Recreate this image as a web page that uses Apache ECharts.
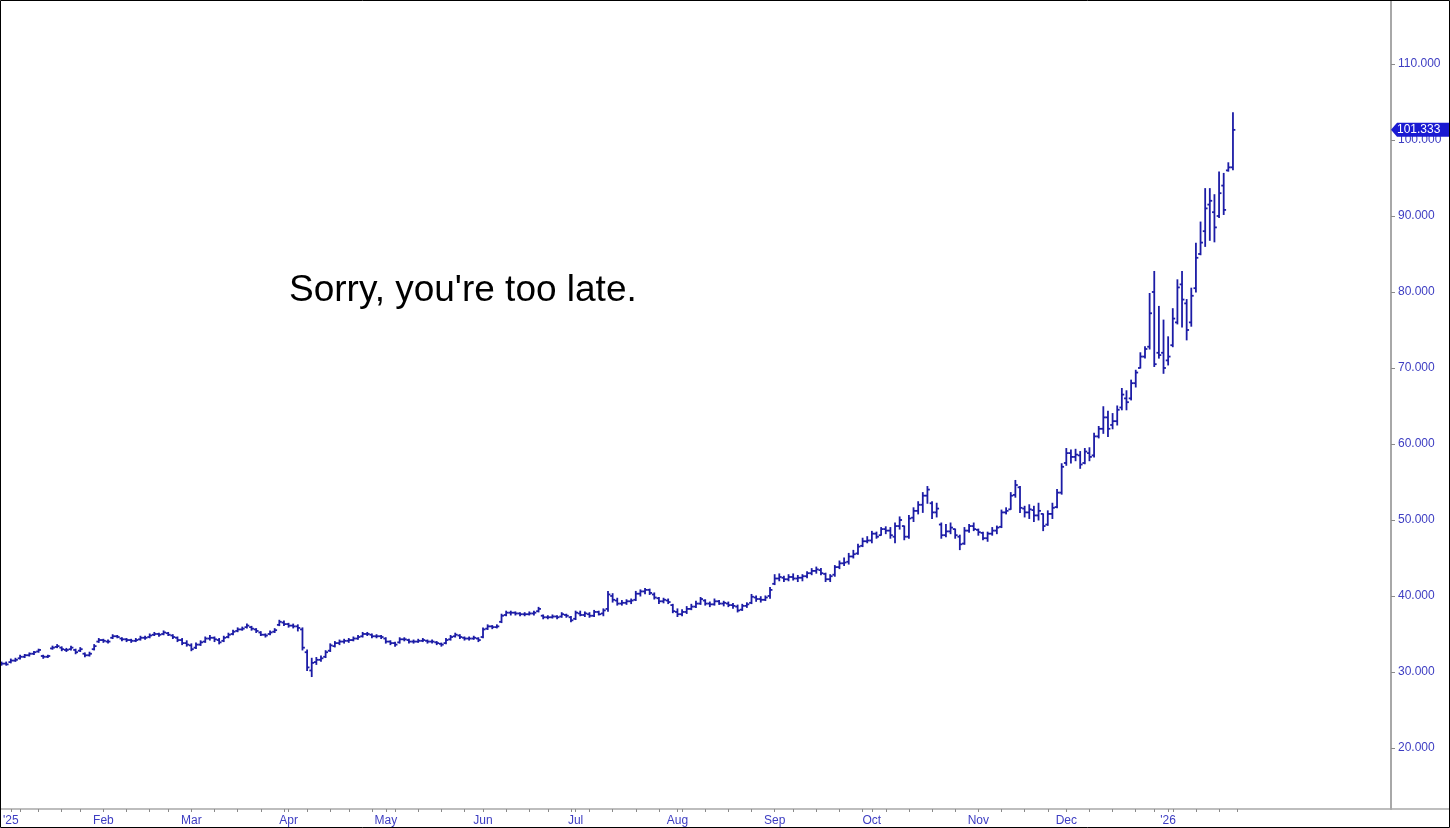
<!DOCTYPE html>
<html>
<head>
<meta charset="utf-8">
<script src="https://cdn.jsdelivr.net/npm/echarts@6/dist/echarts.min.js"></script>
<style>
html,body{margin:0;padding:0;background:#ffffff;}
#c{width:1450px;height:828px;}
</style>
</head>
<body>
<div id="c"></div>
<script>
// ---------------- DATA ----------------
// Daily OHLC bars, first bar = 2024-12-30, trading days only
const firstDate = [2024, 11, 30];
const holidays = ['2025-01-01','2025-01-09','2025-01-20','2025-02-17','2025-04-18','2025-05-26',
  '2025-06-19','2025-07-04','2025-09-01','2025-11-27','2025-12-25','2026-01-01','2026-01-19'];

const opens = [
31.0,31.1,31.3,31.5,31.8,32.0,32.2,32.4,32.7,32.1,
32.0,33.1,33.3,33.2,32.9,33.0,32.9,32.8,32.4,32.2,
33.0,34.0,34.2,34.0,34.5,34.7,34.4,34.3,34.2,34.1,
34.3,34.5,34.6,34.9,35.0,35.0,35.1,34.8,34.5,34.2,
33.8,33.5,33.2,33.6,34.0,34.4,34.5,34.2,34.1,34.6,
35.0,35.4,35.6,35.9,35.9,35.6,35.2,34.9,35.0,35.3,
36.2,36.5,36.3,36.1,36.0,35.6,32.6,30.2,31.3,31.6,
32.0,32.8,33.4,33.8,34.0,34.1,34.2,34.4,34.7,35.0,
34.9,34.7,34.7,34.4,34.0,33.8,33.9,34.3,34.2,34.0,
34.0,34.1,34.1,34.0,33.9,33.7,33.8,34.3,34.7,34.8,
34.5,34.4,34.4,34.4,34.6,35.7,36.0,35.9,36.6,37.5,
37.8,37.8,37.7,37.6,37.6,37.7,38.0,37.4,37.2,37.2,
37.3,37.3,37.5,37.2,37.0,37.7,37.5,37.6,37.4,37.9,
37.7,38.3,40.0,39.4,39.0,39.1,39.3,39.5,40.3,40.6,
40.8,40.2,39.7,39.3,39.4,38.8,37.9,37.6,37.9,38.3,
38.6,39.0,39.4,39.0,38.9,39.3,39.0,39.0,38.8,38.6,
38.2,38.7,39.1,39.8,39.6,39.5,40.0,41.6,42.3,42.4,
42.2,42.5,42.3,42.4,42.6,43.0,43.3,43.4,42.9,42.2,
42.8,43.8,44.3,44.5,45.2,45.6,46.6,47.2,47.3,48.2,
48.0,48.8,48.6,47.8,49.2,49.2,47.8,50.3,51.2,52.0,
53.2,52.2,51.0,49.4,48.0,48.5,48.8,47.8,46.9,48.6,
49.2,48.7,48.3,47.6,48.2,48.6,49.1,51.0,51.4,53.3,
54.3,51.5,51.0,51.3,50.6,50.8,49.4,50.8,51.7,53.6,
57.5,58.8,58.3,58.5,57.5,58.8,58.5,61.0,62.0,63.5,
62.5,63.0,64.8,66.0,66.0,68.0,70.0,71.5,72.8,80.0,
72.0,72.0,71.0,73.0,76.0,81.0,78.5,76.0,80.5,85.0,
88.0,91.5,90.5,90.0,94.0,96.0,96.4
];
const highs = [
31.3,31.3,31.7,31.8,32.2,32.3,32.5,32.7,33.0,32.2,
32.2,33.4,33.6,33.3,33.1,33.4,33.0,33.2,32.5,32.6,
33.6,34.4,34.3,34.2,34.9,34.8,34.5,34.4,34.3,34.4,
34.7,34.7,35.0,35.2,35.1,35.4,35.2,34.9,34.6,34.4,
34.1,33.7,33.8,34.1,34.6,34.8,34.6,34.4,34.7,35.1,
35.5,35.8,35.9,36.3,36.0,35.7,35.3,35.0,35.4,35.7,
36.8,36.7,36.4,36.3,36.2,35.8,32.9,31.8,31.9,32.1,
32.8,33.7,34.0,34.2,34.3,34.4,34.6,34.8,35.2,35.2,
35.0,34.9,34.8,34.5,34.1,33.9,34.5,34.5,34.3,34.2,
34.3,34.4,34.2,34.2,34.0,33.8,34.4,34.8,35.1,34.9,
34.6,34.6,34.7,34.5,35.8,36.2,36.1,36.2,37.6,38.0,
38.0,37.9,37.8,37.8,37.9,38.0,38.5,37.5,37.4,37.5,
37.4,37.8,37.6,37.3,38.0,38.0,37.9,37.8,38.1,38.0,
38.3,40.6,40.3,39.7,39.4,39.5,39.6,40.6,40.8,41.0,
40.9,40.4,39.8,39.7,39.6,38.9,38.3,38.2,38.6,38.9,
39.3,39.8,39.5,39.2,39.6,39.4,39.3,39.2,39.0,38.8,
38.9,39.1,40.2,40.0,39.9,40.0,41.1,42.8,42.9,42.6,
42.8,42.9,42.7,42.8,43.2,43.6,43.8,43.6,43.0,42.8,
44.0,44.6,45.0,45.6,46.0,46.8,47.6,47.8,48.5,48.4,
49.0,49.1,49.0,49.6,50.4,49.2,50.6,51.6,52.4,53.6,
54.4,52.4,52.2,49.6,49.4,49.6,48.8,48.0,49.0,49.4,
49.6,48.8,48.4,48.4,49.0,49.2,51.3,51.6,53.6,55.2,
54.4,51.8,52.0,51.8,52.2,50.8,51.2,52.2,54.0,57.4,
59.4,59.2,59.3,59.0,59.4,59.5,61.4,62.3,64.9,64.3,
64.0,65.0,67.3,67.0,68.4,69.7,72.0,72.8,79.8,82.7,
78.1,76.3,74.1,77.8,81.6,82.7,79.0,80.5,86.4,89.2,
93.6,93.6,92.8,95.8,95.6,97.0,103.6
];
const lows = [
30.9,30.9,31.2,31.4,31.7,31.9,32.1,32.3,32.6,31.8,
31.9,33.0,33.2,32.8,32.7,32.9,32.4,32.7,32.0,32.1,
32.9,33.9,33.9,33.8,34.4,34.5,34.1,34.0,33.9,34.0,
34.2,34.3,34.5,34.8,34.7,34.9,34.8,34.4,34.0,33.6,
33.4,32.8,33.1,33.5,33.9,34.2,34.0,33.7,34.0,34.5,
34.9,35.3,35.5,35.8,35.5,35.2,34.8,34.6,34.9,35.2,
36.1,36.1,35.9,35.8,35.4,32.9,30.2,29.4,31.0,31.4,
31.9,32.7,33.3,33.6,33.8,33.9,34.1,34.3,34.6,34.8,
34.5,34.5,34.4,33.8,33.6,33.4,33.8,34.1,33.8,33.8,
33.9,34.0,33.8,33.8,33.6,33.4,33.7,34.2,34.6,34.4,
34.2,34.2,34.3,34.0,34.5,35.6,35.7,35.8,36.5,37.4,
37.5,37.5,37.4,37.4,37.5,37.5,37.9,37.0,37.0,37.1,
37.0,37.2,37.2,36.6,36.9,37.4,37.3,37.2,37.3,37.5,
37.4,38.0,39.2,38.8,38.8,38.9,39.0,39.4,40.0,40.3,
40.2,39.6,39.0,39.1,39.0,37.8,37.3,37.4,37.7,38.2,
38.5,38.9,38.8,38.6,38.8,38.9,38.7,38.6,38.4,37.9,
38.1,38.5,39.0,39.3,39.2,39.4,39.7,41.5,42.0,41.9,
42.0,42.1,41.9,42.0,42.4,42.8,43.0,42.8,41.9,41.9,
42.6,43.6,44.0,44.2,45.0,45.5,46.5,47.0,47.0,47.6,
48.0,48.2,47.6,47.0,48.8,47.4,47.6,49.8,50.8,51.0,
52.2,50.2,50.4,47.6,47.8,48.2,47.6,46.1,46.8,48.4,
48.6,48.0,47.4,47.2,48.0,48.2,49.0,50.8,51.4,53.0,
51.0,50.4,50.2,49.8,50.0,48.6,49.3,50.2,51.6,53.4,
57.2,57.5,57.8,56.8,57.4,57.8,58.3,60.8,61.4,61.0,
62.0,62.5,64.5,64.5,65.8,67.5,70.0,71.3,72.5,70.2,
71.3,69.3,70.4,72.8,75.8,75.4,73.7,75.5,80.0,84.9,
86.0,86.8,86.6,89.8,90.2,95.9,96.1
];
const closes = [
31.1,31.0,31.5,31.6,32.0,32.2,32.4,32.6,32.9,32.0,
32.1,33.2,33.4,33.0,32.9,33.2,32.6,33.0,32.2,32.4,
33.4,34.2,34.1,34.0,34.7,34.6,34.3,34.2,34.1,34.2,
34.5,34.5,34.8,35.0,34.9,35.2,34.9,34.6,34.2,33.8,
33.6,33.0,33.6,33.9,34.4,34.5,34.3,33.9,34.5,34.9,
35.3,35.6,35.7,36.1,35.7,35.4,34.9,34.8,35.2,35.5,
36.6,36.3,36.1,36.0,35.8,33.2,30.6,31.2,31.6,31.8,
32.6,33.5,33.8,34.0,34.1,34.2,34.4,34.6,35.0,35.0,
34.7,34.7,34.6,34.0,33.8,33.6,34.3,34.3,34.0,34.0,
34.1,34.2,34.0,34.0,33.8,33.6,34.2,34.6,34.9,34.6,
34.4,34.4,34.5,34.2,35.6,36.0,35.9,36.0,37.4,37.8,
37.8,37.7,37.6,37.6,37.7,37.8,38.3,37.2,37.2,37.3,
37.2,37.6,37.4,36.8,37.8,37.5,37.7,37.4,37.9,37.6,
38.1,40.2,39.5,39.0,39.1,39.3,39.4,40.3,40.6,40.8,
40.4,39.8,39.3,39.5,39.2,38.0,37.6,37.9,38.3,38.6,
39.0,39.6,39.0,38.9,39.3,39.0,39.1,38.8,38.7,38.1,
38.7,38.9,39.9,39.6,39.5,39.8,40.8,42.3,42.5,42.2,
42.5,42.3,42.4,42.6,43.0,43.3,43.5,43.0,42.2,42.6,
43.8,44.3,44.4,45.2,45.5,46.5,47.2,47.3,48.2,47.8,
48.8,48.6,48.0,49.2,50.0,47.8,50.2,51.2,52.0,53.2,
54.0,51.0,51.5,48.0,48.5,49.0,48.0,46.8,48.6,49.2,
48.8,48.4,47.6,48.2,48.6,49.0,51.0,51.2,53.2,54.6,
51.6,51.0,51.4,50.6,51.2,49.2,50.8,51.6,53.6,57.0,
58.8,58.3,58.6,57.3,59.0,58.3,61.0,62.0,63.5,62.0,
63.0,64.5,66.5,65.5,68.0,69.4,71.5,72.5,77.2,70.5,
71.7,70.0,71.5,76.5,80.6,79.0,75.0,79.5,84.5,86.5,
91.0,92.0,88.5,93.0,90.8,96.4,101.333
];
const yTickValues = [20, 30, 40, 50, 60, 70, 80, 90, 100, 110];
const monthNames = ['Jan','Feb','Mar','Apr','May','Jun','Jul','Aug','Sep','Oct','Nov','Dec'];
const noteText = "Sorry, you're too late.";
const lastPriceText = '101.333';

// ---------------- CALENDAR (trading days) ----------------
function buildCalendar(count) {
  const out = [];
  const d = new Date(Date.UTC(firstDate[0], firstDate[1], firstDate[2]));
  while (out.length < count) {
    const wd = d.getUTCDay();
    const iso = d.toISOString().slice(0, 10);
    if (wd !== 0 && wd !== 6 && holidays.indexOf(iso) < 0) {
      out.push({y: d.getUTCFullYear(), m: d.getUTCMonth(), wd: wd, t: d.getTime()});
    }
    d.setUTCDate(d.getUTCDate() + 1);
  }
  return out;
}
const cal = buildCalendar(opens.length + 1); // one extra session for the next weekly tick
const monthKs = [], tickKs = [], labelMap = {};
for (let k = 1; k < cal.length; k++) {
  const newMonth = cal[k].m !== cal[k - 1].m;
  const newWeek = cal[k].wd < cal[k - 1].wd || (cal[k].t - cal[k - 1].t) > 4 * 86400000;
  if (newMonth) {
    monthKs.push(k);
    labelMap[k] = cal[k].m === 0 ? "'" + String(cal[k].y).slice(2) : monthNames[cal[k].m];
  }
  if (newMonth || newWeek) tickKs.push(k);
}

const barData = opens.map((o, k) => [k, o, highs[k], lows[k], closes[k]]);

// ---------------- CHART ----------------
const BAR_COLOR = '#1c1ca6';
const LABEL_COLOR = '#3d3dc2';
const chart = echarts.init(document.getElementById('c'));

function renderItem(params, api) {
  const x = api.value(0);
  const pO = api.coord([x, api.value(1)]);
  const pH = api.coord([x, api.value(2)]);
  const pL = api.coord([x, api.value(3)]);
  const pC = api.coord([x, api.value(4)]);
  const w = 2.4;
  const style = {stroke: BAR_COLOR, lineWidth: 1.8};
  return {
    type: 'group',
    children: [
      {type: 'line', shape: {x1: pH[0], y1: pH[1] - 0.5, x2: pL[0], y2: pL[1] + 0.5}, style: style},
      {type: 'line', shape: {x1: pO[0] - w, y1: pO[1], x2: pO[0], y2: pO[1]}, style: style},
      {type: 'line', shape: {x1: pC[0], y1: pC[1], x2: pC[0] + w, y2: pC[1]}, style: style}
    ]
  };
}

chart.setOption({
  animation: false,
  backgroundColor: '#ffffff',
  grid: {left: 0, right: 59, top: 0, bottom: 19},
  xAxis: {
    type: 'value', min: -0.159, max: 300.14,
    axisLine: {show: true, onZero: false, lineStyle: {color: '#a8a8a8', width: 1.5}},
    axisTick: {show: true, customValues: tickKs, length: 3, lineStyle: {color: '#8a8a8a'}},
    axisLabel: {
      customValues: monthKs,
      formatter: function (v) { return labelMap[v] || ''; },
      color: LABEL_COLOR, fontSize: 12, fontFamily: 'Liberation Sans, Arial, sans-serif', margin: 6
    },
    splitLine: {show: false}
  },
  yAxis: {
    type: 'value', position: 'right', min: 11.97, max: 118.42,
    axisLine: {show: true, onZero: false, lineStyle: {color: '#a8a8a8', width: 2}},
    axisTick: {show: true, customValues: yTickValues, length: 4, lineStyle: {color: '#8a8a8a'}},
    axisLabel: {
      customValues: yTickValues,
      formatter: function (v) { return v.toFixed(3); },
      color: LABEL_COLOR, fontSize: 12, fontFamily: 'Liberation Sans, Arial, sans-serif', margin: 7
    },
    splitLine: {show: false}
  },
  series: [{
    type: 'custom',
    renderItem: renderItem,
    data: barData,
    encode: {x: 0, y: [1, 2, 3, 4]},
    clip: false
  }]
});

const lastK = closes.length - 1;
const pLast = chart.convertToPixel({gridIndex: 0}, [lastK, closes[lastK]]);
const axisX = chart.convertToPixel({gridIndex: 0}, [300.14, 0])[0];
const ty = pLast[1];

chart.setOption({
  graphic: [
    {type: 'text', left: 289, top: 272, z: 10,
     style: {text: noteText, fill: '#000000', fontSize: 37, fontFamily: 'Liberation Sans, Arial, sans-serif'}},
    {type: 'line', z: 5, shape: {x1: axisX, y1: 809, x2: 1450, y2: 809},
     style: {stroke: '#a8a8a8', lineWidth: 1.5}},
    {type: 'polygon', z: 20,
     shape: {points: [[axisX, ty], [axisX + 6, ty - 7], [1450, ty - 7], [1450, ty + 7], [axisX + 6, ty + 7]]},
     style: {fill: '#1a1ad2'}},
    {type: 'text', z: 21, x: axisX + 6, y: ty,
     style: {text: lastPriceText, fill: '#ffffff', fontSize: 12, fontFamily: 'Liberation Sans, Arial, sans-serif',
             verticalAlign: 'middle', align: 'left'}},
    {type: 'rect', z: 30, shape: {x: 0.5, y: 0.5, width: 1449, height: 827},
     style: {fill: 'none', stroke: '#000000', lineWidth: 1}}
  ]
});
</script>
</body>
</html>
